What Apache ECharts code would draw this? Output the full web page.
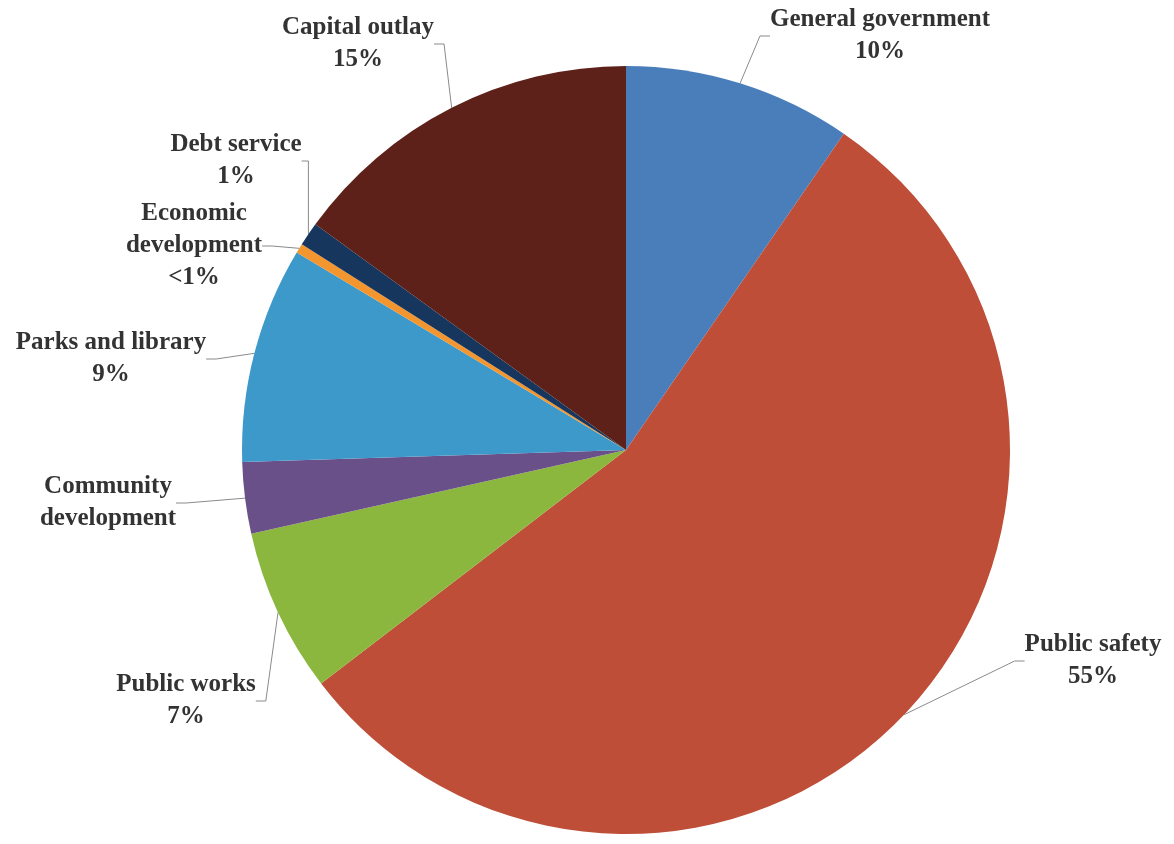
<!DOCTYPE html>
<html>
<head>
<meta charset="utf-8">
<script src="https://cdn.jsdelivr.net/npm/echarts@6/dist/echarts.min.js"></script>
<style>
  html, body { margin: 0; padding: 0; background: #fff; }
  #pie-chart { width: 1174px; height: 844px; }
</style>
</head>
<body>
<div id="pie-chart"></div>
<script>
// spending by function, share of total (%), clockwise from 12 o'clock
var categories = ["General government", "Public safety", "Public works", "Community\ndevelopment",
  "Parks and library", "Economic\ndevelopment", "Debt service", "Capital outlay"];
var values = [9.6, 55.0, 6.9, 3.0, 9.1, 0.4, 1.0, 15.0];
var pctLabels = ["10%", "55%", "7%", "", "9%", "<1%", "1%", "15%"];

var colors = ["#4a7ebb", "#be4e37", "#8cb73f", "#6a5089", "#3d99ca", "#f3962f", "#17365d", "#5e2119"];
// where each label sits (centre of the text block)
var labelSpots = [[880, 36], [1093, 661], [186, 701], [108, 503], [111, 359], [194, 246], [236, 161], [358, 44]];

var dom = document.getElementById("pie-chart"), myChart = echarts.init(dom);
var option = {
  animation: false,
  series: [{
    type: "pie",
    center: [626, 450],
    radius: 384,
    startAngle: 90,
    clockwise: true,
    avoidLabelOverlap: false,
    itemStyle: { borderWidth: 0 },
    label: {
      show: true,
      position: "outside",
      color: "#333",
      fontFamily: "Liberation Serif",
      fontWeight: "bold",
      fontSize: 25,
      lineHeight: 32,
      align: "center",
      formatter: function (p) {
        var pct = pctLabels[p.dataIndex];
        return pct ? p.name + "\n" + pct : p.name;
      }
    },
    labelLine: { show: true, length: 10, length2: 10, lineStyle: { color: "#8a8a8a", width: 1 } },
    labelLayout: function (p) {
      var s = labelSpots[p.dataIndex];
      return { x: s[0], y: s[1], align: "center", verticalAlign: "middle" };
    },
    data: categories.map(function (c, i) {
      return { name: c, value: values[i], itemStyle: { color: colors[i] } };
    })
  }]
};
myChart.setOption(option);
</script>
</body>
</html>
